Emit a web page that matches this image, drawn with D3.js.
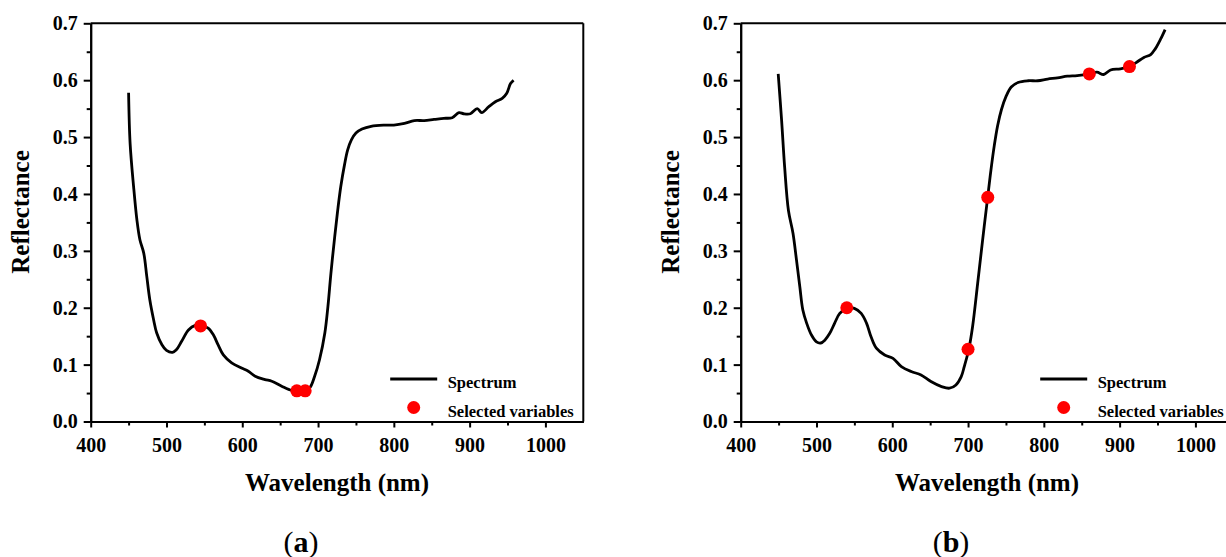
<html>
<head>
    <style>
        body { margin: 0; background-color: #ffffff; }
        svg text { font-family: "Liberation Serif", "Times New Roman", serif; fill: #000; }
        .axis path, .axis line { stroke: #000; stroke-width: 2px; }
        .axis text { font-size: 20px; font-weight: bold; }
        .title { font-size: 25px; font-weight: bold; }
        .legend text { font-size: 16.5px; font-weight: bold; }
    </style>
</head>
<body>
<svg id="container" width="1226" height="557"></svg>
<script src="https://cdn.jsdelivr.net/npm/d3@7"></script>
<script>
    // spectrum (a)
    let waveA = [450, 452, 456.6, 461, 465, 470, 474, 478, 483, 487, 494, 500, 508, 513, 520, 529, 538, 545, 555, 562, 568, 575, 586, 599, 608, 617, 630, 639, 652, 665, 671, 682, 689, 695.5, 702, 709, 713, 717, 722, 726, 730, 735, 739, 744, 750, 758, 770, 787, 800, 814, 827, 840, 853, 866, 877, 886, 892, 901, 910, 916, 925, 934, 943, 949, 954, 958]
    let reflA = [0.578, 0.489, 0.413, 0.354, 0.319, 0.296, 0.255, 0.214, 0.179, 0.156, 0.135, 0.125, 0.1216, 0.126, 0.141, 0.161, 0.169, 0.169, 0.164, 0.152, 0.135, 0.117, 0.103, 0.094, 0.0883, 0.0795, 0.0737, 0.0708, 0.062, 0.0545, 0.054, 0.054, 0.0591, 0.0795, 0.109, 0.156, 0.202, 0.261, 0.325, 0.372, 0.413, 0.452, 0.477, 0.495, 0.507, 0.514, 0.519, 0.521, 0.521, 0.524, 0.529, 0.529, 0.531, 0.533, 0.534, 0.543, 0.541, 0.541, 0.55, 0.543, 0.553, 0.562, 0.568, 0.577, 0.594, 0.6]
    let selWaveA = [545, 672, 683]
    let selReflA = [0.168, 0.054, 0.054]

    // spectrum (b)
    let waveB = [449.5, 454, 458, 463, 469, 473.6, 478, 482, 487, 493.4, 500, 505.6, 511, 517.5, 524, 530.7, 540, 550, 559, 566, 572, 579, 590, 601, 612, 625, 638, 651, 665, 675.5, 684, 691, 695, 701, 706, 712.7, 719.2, 725.8, 730.2, 734.6, 739, 744, 750, 757, 766, 779, 792, 805, 818, 831, 844, 860, 870, 879, 888, 901, 913.6, 923, 932, 941, 947, 954, 960]
    let reflB = [0.611, 0.529, 0.447, 0.371, 0.331, 0.284, 0.237, 0.196, 0.173, 0.152, 0.14, 0.138, 0.143, 0.155, 0.173, 0.19, 0.199, 0.199, 0.19, 0.173, 0.149, 0.129, 0.117, 0.111, 0.0966, 0.0878, 0.0819, 0.0702, 0.0614, 0.0585, 0.0643, 0.0789, 0.0965, 0.127, 0.167, 0.243, 0.319, 0.393, 0.442, 0.485, 0.52, 0.548, 0.571, 0.588, 0.596, 0.599, 0.599, 0.602, 0.604, 0.607, 0.608, 0.611, 0.614, 0.61, 0.618, 0.62, 0.624, 0.632, 0.64, 0.645, 0.655, 0.672, 0.689]
    let selWaveB = [540, 700, 726, 860, 913]
    let selReflB = [0.2, 0.127, 0.394, 0.611, 0.624]

    let xTicks = [400, 500, 600, 700, 800, 900, 1000]
    let xMinor = [450, 550, 650, 750, 850, 950]
    let yTicks = [0, 0.1, 0.2, 0.3, 0.4, 0.5, 0.6, 0.7]
    let yMinor = [0.05, 0.15, 0.25, 0.35, 0.45, 0.55, 0.65]
    let legendLabels = ["Spectrum", "Selected variables"]

    let svg = d3.select("#container")

    let plotTop = 23.3
    let plotBottom = 421.5
    let plotWidth = 492.6

    function drawPanel(left, waves, refl, selW, selR, tag, tagX) {
        let xScale = d3.scaleLinear()
            .domain([400, 1050])
            .range([left, left + plotWidth])

        let yScale = d3.scaleLinear()
            .domain([0, 0.7])
            .range([plotBottom, plotTop])

        let g = svg.append("g")

        // frame top + right
        g.append("line")
            .attr("x1", left).attr("x2", left + plotWidth)
            .attr("y1", plotTop).attr("y2", plotTop)
            .attr("stroke", "#000").attr("stroke-width", 2)
        g.append("line")
            .attr("x1", left + plotWidth).attr("x2", left + plotWidth)
            .attr("y1", plotTop).attr("y2", plotBottom)
            .attr("stroke", "#000").attr("stroke-width", 2)

        // minor ticks
        g.append("g")
            .attr("class", "axis")
            .attr("transform", "translate(0," + plotBottom + ")")
            .call(d3.axisBottom(xScale).tickValues(xMinor).tickFormat("").tickSizeInner(4).tickSizeOuter(0))
        g.append("g")
            .attr("class", "axis")
            .attr("transform", "translate(" + left + ",0)")
            .call(d3.axisLeft(yScale).tickValues(yMinor).tickFormat("").tickSizeInner(4).tickSizeOuter(0))

        // major ticks
        g.append("g")
            .attr("class", "axis")
            .attr("transform", "translate(0," + plotBottom + ")")
            .call(d3.axisBottom(xScale).tickValues(xTicks).tickFormat(d3.format("d"))
                .tickSizeInner(6).tickSizeOuter(0).tickPadding(10))
        g.append("g")
            .attr("class", "axis")
            .attr("transform", "translate(" + left + ",0)")
            .call(d3.axisLeft(yScale).tickValues(yTicks).tickFormat(d3.format(".1f"))
                .tickSizeInner(7).tickSizeOuter(0).tickPadding(6))

        svg.selectAll(".axis").attr("font-family", null).attr("font-size", null)

        // titles
        g.append("text")
            .attr("class", "title")
            .attr("x", (xScale.range()[0] + xScale.range()[1]) / 2)
            .attr("y", 491)
            .attr("text-anchor", "middle")
            .text("Wavelength (nm)")

        g.append("text")
            .attr("class", "title")
            .attr("transform", "translate(" + (left - 62) + ",212) rotate(-90)")
            .attr("text-anchor", "middle")
            .text("Reflectance")

        // spectrum
        let data = waves.map((w, i) => ({ w: w, r: refl[i] }))
        let line = d3.line()
            .x(d => xScale(d.w))
            .y(d => yScale(d.r))
            .curve(d3.curveCatmullRom.alpha(0.5))

        g.append("path")
            .datum(data)
            .attr("d", line)
            .attr("fill", "none")
            .attr("stroke", "#000")
            .attr("stroke-width", 2.8)
            .attr("stroke-linejoin", "round")

        let pts = selW.map((w, i) => ({ w: w, r: selR[i] }))
        g.selectAll("circle.sel")
            .data(pts)
            .enter()
            .append("circle")
            .attr("class", "sel")
            .attr("cx", d => xScale(d.w))
            .attr("cy", d => yScale(d.r))
            .attr("r", 6.5)
            .attr("fill", "#ff0000")

        // legend
        let lg = g.append("g").attr("class", "legend")
        lg.append("line")
            .attr("x1", left + 299.5).attr("x2", left + 346.5)
            .attr("y1", 379).attr("y2", 379)
            .attr("stroke", "#000").attr("stroke-width", 2.8)
        lg.append("circle")
            .attr("cx", left + 323).attr("cy", 407.5)
            .attr("r", 6.5)
            .attr("fill", "#ff0000")
        lg.selectAll("text")
            .data(legendLabels)
            .enter()
            .append("text")
            .attr("x", left + 357)
            .attr("y", (d, i) => 388 + i * 29)
            .text(d => d)

        // panel tag
        let t = g.append("text")
            .attr("x", tagX)
            .attr("y", 552)
            .attr("text-anchor", "middle")
            .attr("font-size", "30px")
        t.append("tspan").text("(")
        t.append("tspan").attr("font-weight", "bold").text(tag)
        t.append("tspan").text(")")
    }

    drawPanel(90.7, waveA, reflA, selWaveA, selReflA, "a", 301)
    drawPanel(740.7, waveB, reflB, selWaveB, selReflB, "b", 951)
</script>
</body>
</html>
